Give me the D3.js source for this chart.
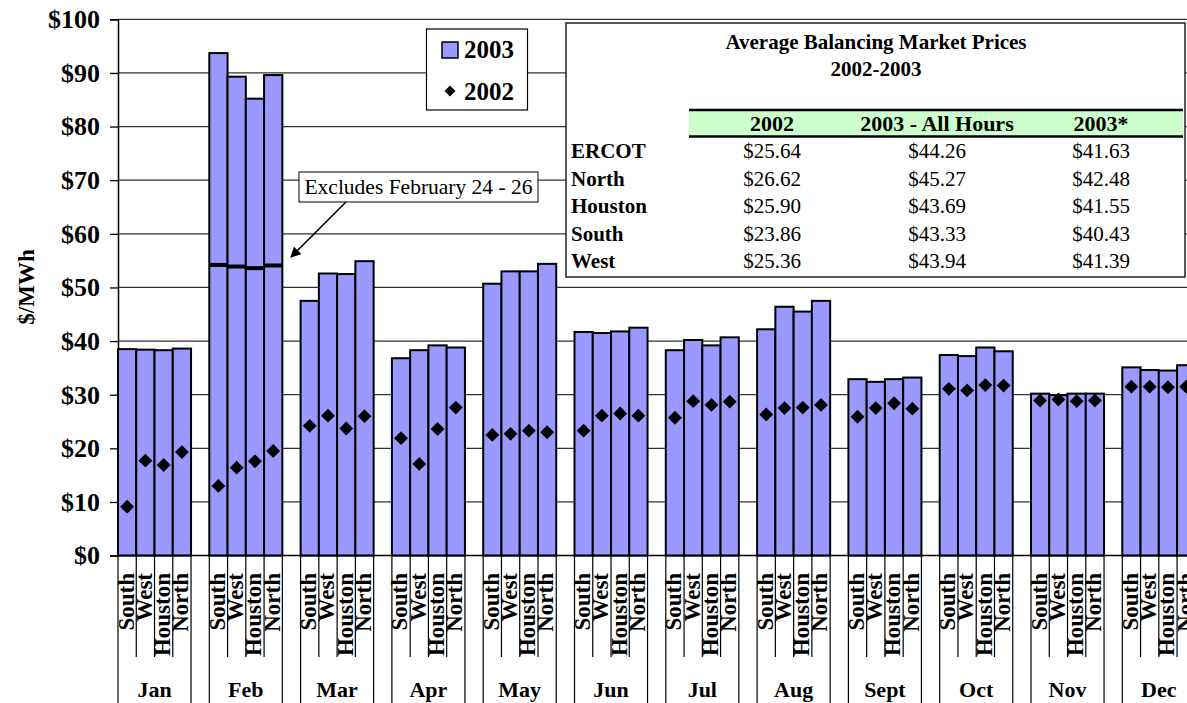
<!DOCTYPE html>
<html>
<head>
<meta charset="utf-8">
<script src="https://cdn.jsdelivr.net/npm/d3@7"></script>
<style>
  body { margin: 0; background: #fff; }
  text { font-family: "Liberation Serif", "Times New Roman", serif; }
</style>
</head>
<body>
<div id="chart"></div>
<script>
// data
var months = ["Jan", "Feb", "Mar", "Apr", "May", "Jun", "Jul", "Aug", "Sept", "Oct", "Nov", "Dec"];
var zones = ["South", "West", "Houston", "North"];
var price2003 = [
  [38.5, 38.4, 38.3, 38.6], [93.7, 89.3, 85.2, 89.6], [47.5, 52.6, 52.5, 54.9],
  [36.8, 38.3, 39.2, 38.8], [50.7, 53.0, 53.0, 54.4], [41.7, 41.5, 41.8, 42.5],
  [38.3, 40.2, 39.2, 40.7], [42.2, 46.4, 45.5, 47.5], [32.9, 32.4, 32.9, 33.2],
  [37.4, 37.2, 38.8, 38.1], [30.2, 29.9, 30.2, 30.2], [35.1, 34.6, 34.5, 35.5]
];
var price2002 = [
  [9.1, 17.7, 16.9, 19.3], [13.0, 16.4, 17.6, 19.5], [24.2, 26.1, 23.7, 26.0],
  [21.9, 17.1, 23.6, 27.6], [22.5, 22.7, 23.3, 23.0], [23.3, 26.1, 26.5, 26.1],
  [25.7, 28.8, 28.1, 28.7], [26.3, 27.5, 27.6, 28.1], [25.9, 27.5, 28.4, 27.4],
  [31.1, 30.8, 31.8, 31.7], [28.9, 29.1, 28.8, 28.9], [31.5, 31.5, 31.4, 31.5]
];
var febExcluded = [54.2, 53.9, 53.6, 54.1];
var yTicks = [0, 10, 20, 30, 40, 50, 60, 70, 80, 90, 100];

var tableTitle = ["Average Balancing Market Prices", "2002-2003"];
var tableCols = ["2002", "2003 - All Hours", "2003*"];
var tableRows = ["ERCOT", "North", "Houston", "South", "West"];
var table2002 = ["$25.64", "$26.62", "$25.90", "$23.86", "$25.36"];
var table2003All = ["$44.26", "$45.27", "$43.69", "$43.33", "$43.94"];
var table2003Star = ["$41.63", "$42.48", "$41.55", "$40.43", "$41.39"];

var W = 1187, H = 703;
var left = 118, slotW = 18.26;
var barFill = "#9999ff";

var svg = d3.select("#chart").append("svg")
  .attr("width", W).attr("height", H);

// one slot per zone plus a blank slot after each month
var slots = [];
months.forEach(function (m) {
  zones.forEach(function (z) { slots.push(m + "|" + z); });
  slots.push(m + "|gap");
});

var x = d3.scaleBand().domain(slots).range([left, left + slots.length * slotW]).padding(0);
var y = d3.scaleLinear().domain([0, 100]).range([555.6, 19.3]);

// gridlines
svg.append("g").selectAll("line").data(yTicks.slice(1)).enter().append("line")
  .attr("x1", left).attr("x2", x.range()[1])
  .attr("y1", function (d) { return y(d); }).attr("y2", function (d) { return y(d); })
  .attr("stroke", "#333").attr("stroke-width", 1.3);

// y axis
var yAxis = svg.append("g")
  .attr("transform", "translate(" + left + ",0)")
  .call(d3.axisLeft(y).tickValues(yTicks).tickSize(8).tickPadding(10)
    .tickFormat(function (d) { return "$" + d; }));
yAxis.select(".domain").attr("stroke", "#000").attr("stroke-width", 1.5);
yAxis.selectAll(".tick line").attr("stroke", "#000").attr("stroke-width", 1.3);
yAxis.selectAll(".tick text")
  .style("font-family", "'Liberation Serif', serif")
  .style("font-size", "26px").style("font-weight", "bold").attr("fill", "#000");

svg.append("text")
  .attr("transform", "translate(34,287) rotate(-90)")
  .attr("text-anchor", "middle")
  .style("font-size", "23px").style("font-weight", "bold")
  .text("$/MWh");

// bars for 2003
var barData = [];
months.forEach(function (m, i) {
  zones.forEach(function (z, j) {
    barData.push({ key: m + "|" + z, v03: price2003[i][j], v02: price2002[i][j] });
  });
});

svg.append("g").selectAll("rect").data(barData).enter().append("rect")
  .attr("x", function (d) { return x(d.key); })
  .attr("y", function (d) { return y(d.v03); })
  .attr("width", x.bandwidth())
  .attr("height", function (d) { return y(0) - y(d.v03); })
  .attr("fill", barFill).attr("stroke", "#000").attr("stroke-width", 2);

// Feb values excluding Feb 24-26
svg.append("g").selectAll("line").data(febExcluded).enter().append("line")
  .attr("x1", function (d, j) { return x("Feb|" + zones[j]); })
  .attr("x2", function (d, j) { return x("Feb|" + zones[j]) + x.bandwidth(); })
  .attr("y1", function (d) { return y(d); }).attr("y2", function (d) { return y(d); })
  .attr("stroke", "#000").attr("stroke-width", 4);

// 2002 diamonds
var diamond = d3.symbol().type(d3.symbolSquare).size(96);
svg.append("g").selectAll("path").data(barData).enter().append("path")
  .attr("d", diamond)
  .attr("transform", function (d) {
    return "translate(" + (x(d.key) + x.bandwidth() / 2) + "," + y(d.v02) + ") rotate(45)";
  })
  .attr("fill", "#000");

// x axis line
svg.append("line")
  .attr("x1", left).attr("x2", x.range()[1])
  .attr("y1", y(0)).attr("y2", y(0))
  .attr("stroke", "#000").attr("stroke-width", 1.5);

// category separators and labels
var xg = svg.append("g");
months.forEach(function (m) {
  var x0 = x(m + "|" + zones[0]);
  var x1 = x(m + "|" + zones[3]) + x.bandwidth();
  [x0, x1].forEach(function (xx) {
    xg.append("line").attr("x1", xx).attr("x2", xx)
      .attr("y1", y(0)).attr("y2", H).attr("stroke", "#000").attr("stroke-width", 1.2);
  });
  zones.forEach(function (z, j) {
    var sx = x(m + "|" + z);
    if (j > 0) {
      xg.append("line").attr("x1", sx).attr("x2", sx)
        .attr("y1", y(0)).attr("y2", 657).attr("stroke", "#000").attr("stroke-width", 1.2);
    }
    xg.append("text")
      .attr("transform", "translate(" + (sx + 15.5) + ",573) rotate(-90)")
      .attr("text-anchor", "end")
      .style("font-size", "23px").style("font-weight", "bold")
      .text(z);
  });
  xg.append("text")
    .attr("x", (x0 + x1) / 2).attr("y", 697)
    .attr("text-anchor", "middle")
    .style("font-size", "22px").style("font-weight", "bold")
    .text(m);
});

// legend
var lg = svg.append("g");
lg.append("rect").attr("x", 426.5).attr("y", 29).attr("width", 101).attr("height", 81)
  .attr("fill", "#fff").attr("stroke", "#000").attr("stroke-width", 1.2);
lg.append("rect").attr("x", 442).attr("y", 42).attr("width", 16).attr("height", 16)
  .attr("fill", barFill).attr("stroke", "#000").attr("stroke-width", 1.5);
lg.append("text").attr("x", 464).attr("y", 58)
  .style("font-size", "25px").style("font-weight", "bold").text("2003");
lg.append("path").attr("d", d3.symbol().type(d3.symbolSquare).size(60))
  .attr("transform", "translate(450,91) rotate(45)").attr("fill", "#000");
lg.append("text").attr("x", 464).attr("y", 100)
  .style("font-size", "25px").style("font-weight", "bold").text("2002");

// annotation
var an = svg.append("g");
an.append("rect").attr("x", 299).attr("y", 172).attr("width", 239).attr("height", 30)
  .attr("fill", "#fff").attr("stroke", "#000").attr("stroke-width", 1);
an.append("text").attr("x", 418.5).attr("y", 194).attr("text-anchor", "middle")
  .style("font-size", "21.5px").text("Excludes February 24 - 26");
svg.append("defs").append("marker")
  .attr("id", "arrow").attr("viewBox", "0 0 10 10").attr("refX", 9).attr("refY", 5)
  .attr("markerWidth", 7).attr("markerHeight", 7).attr("orient", "auto")
  .append("path").attr("d", "M0,0 L10,5 L0,10 Z").attr("fill", "#000");
an.append("line").attr("x1", 346).attr("y1", 202).attr("x2", 291).attr("y2", 257)
  .attr("stroke", "#000").attr("stroke-width", 1.5).attr("marker-end", "url(#arrow)");

// table
var tg = svg.append("g");
tg.append("rect").attr("x", 566).attr("y", 23).attr("width", 619).attr("height", 254)
  .attr("fill", "#fff").attr("stroke", "#222").attr("stroke-width", 1.5);
tableTitle.forEach(function (t, i) {
  tg.append("text").attr("x", 876).attr("y", 49 + i * 27).attr("text-anchor", "middle")
    .style("font-size", "21px").style("font-weight", "bold").text(t);
});
tg.append("rect").attr("x", 689).attr("y", 110).attr("width", 494).attr("height", 26)
  .attr("fill", "#ccffcc");
[110, 136.5].forEach(function (yy) {
  tg.append("line").attr("x1", 689).attr("x2", 1183).attr("y1", yy).attr("y2", yy)
    .attr("stroke", "#000").attr("stroke-width", 2.5);
});
var colX = [772, 937, 1101];
tableCols.forEach(function (c, i) {
  tg.append("text").attr("x", colX[i]).attr("y", 131).attr("text-anchor", "middle")
    .style("font-size", "22px").style("font-weight", "bold").text(c);
});
var colVals = [table2002, table2003All, table2003Star];
tableRows.forEach(function (r, i) {
  var yy = 158 + i * 27.6;
  tg.append("text").attr("x", 571).attr("y", yy)
    .style("font-size", "21px").style("font-weight", "bold").text(r);
  colVals.forEach(function (vals, c) {
    tg.append("text").attr("x", colX[c]).attr("y", yy).attr("text-anchor", "middle")
      .style("font-size", "21px").text(vals[i]);
  });
});
</script>
</body>
</html>
